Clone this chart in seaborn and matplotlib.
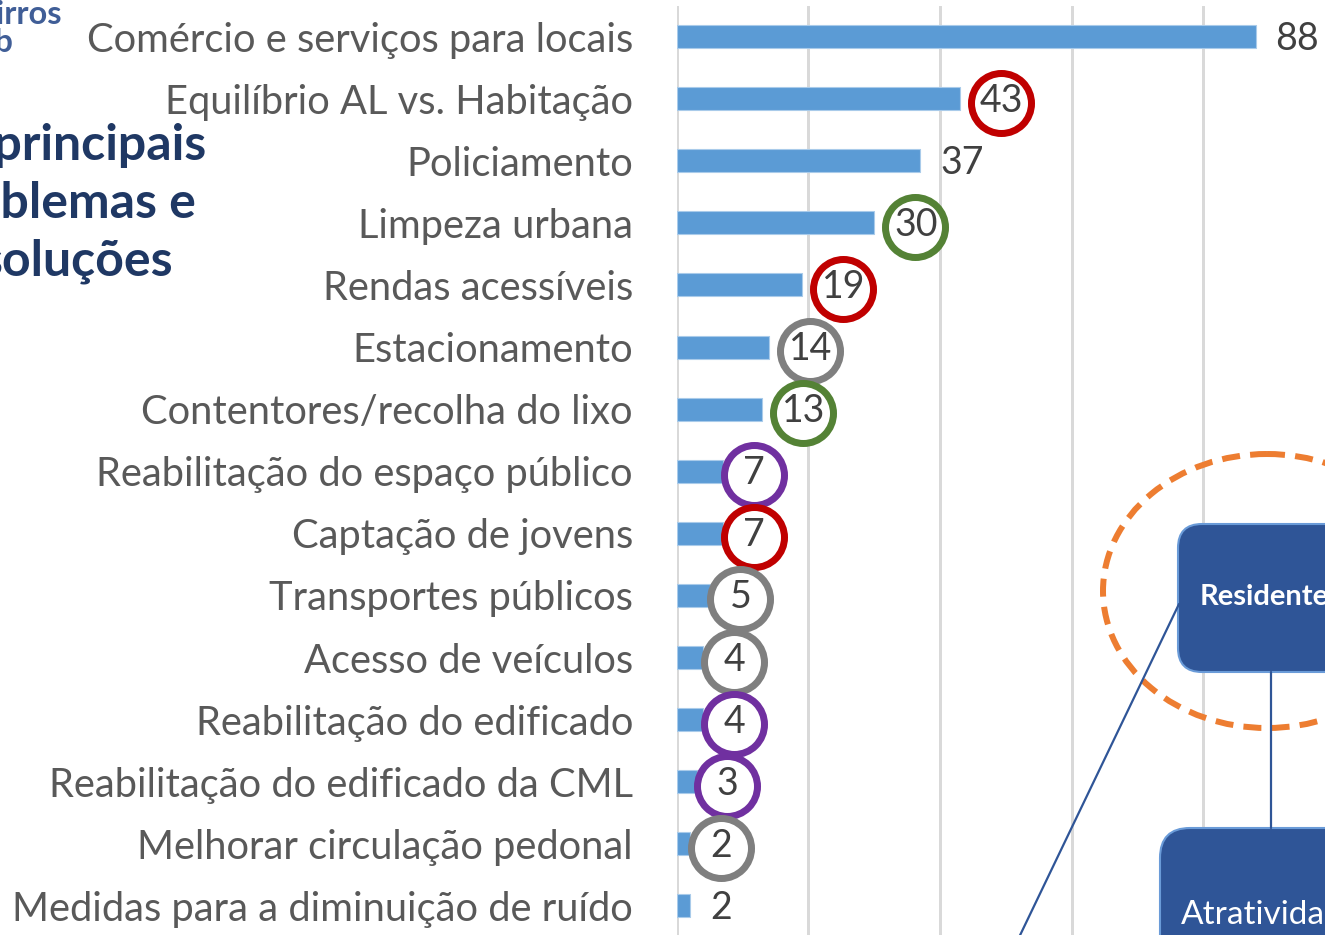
import pandas as pd
import seaborn as sns
import matplotlib.pyplot as plt
from matplotlib.patches import Ellipse, FancyBboxPatch
from matplotlib.transforms import offset_copy

# Survey answers: main problems / solutions mentioned
categories = [
    "Comércio e serviços para locais",
    "Equilíbrio AL vs. Habitação",
    "Policiamento",
    "Limpeza urbana",
    "Rendas acessíveis",
    "Estacionamento",
    "Contentores/recolha do lixo",
    "Reabilitação do espaço público",
    "Captação de jovens",
    "Transportes públicos",
    "Acesso de veículos",
    "Reabilitação do edificado",
    "Reabilitação do edificado da CML",
    "Melhorar circulação pedonal",
    "Medidas para a diminuição de ruído",
]
values = [88, 43, 37, 30, 19, 14, 13, 7, 7, 5, 4, 4, 3, 2, 2]
# ring drawn around the value label ('' = none)
ring_colors = ["", "#C00000", "", "#548235", "#C00000", "#7F7F7F", "#548235",
               "#7030A0", "#C00000", "#7F7F7F", "#7F7F7F", "#7030A0", "#7030A0",
               "#7F7F7F", ""]

title_lines = ["Os principais", "problemas e", "soluções"]
logo_lines = ["Bairros", "Lab"]
box_labels = ["Residentes", "Atratividade"]

W, H, DPI = 1325, 935, 100
PX = 72 / DPI  # points per pixel

sns.set_theme(style="white")
plt.rcParams["font.family"] = ["Lato", "DejaVu Sans"]

fig = plt.figure(figsize=(W / DPI, H / DPI), dpi=DPI)
fig.patch.set_facecolor("white")

# ---- horizontal bar chart -------------------------------------------------
ax = fig.add_axes([677 / W, -2 / H, 657.5 / W, 931.5 / H])
df = pd.DataFrame({"tema": categories, "n": values})
sns.barplot(data=df, x="n", y="tema", orient="h", color="#5B9BD5",
            saturation=1, width=0.37, edgecolor="#A9CBEA", linewidth=0.8, ax=ax)
ylim = ax.get_ylim()

ax.set_xticks(range(0, 101, 20))
ax.xaxis.grid(True, color="#D9D9D9", linewidth=3 * PX)
ax.yaxis.grid(False)
ax.set_axisbelow(True)
for sp in ax.spines.values():
    sp.set_visible(False)
ax.set_xlabel("")
ax.set_ylabel("")
ax.tick_params(axis="x", length=0, labelbottom=False)
ax.tick_params(axis="y", length=0, pad=44 * PX, labelsize=28.7, labelcolor="#595959")

for i, (v, col) in enumerate(zip(values, ring_colors)):
    ax.annotate(str(v), xy=(v, i), xytext=(20 * PX, -2 * PX),
                textcoords="offset points", ha="left", va="center",
                fontsize=27, color="#404040", zorder=6)
    if col:
        w = 21 * len(str(v))
        tr = offset_copy(ax.transData, fig=fig, x=20 + w / 2, y=-4, units="dots")
        ax.plot([v], [i], marker="o", ms=60 * PX, mew=7 * PX, mec=col,
                mfc="white", transform=tr, clip_on=False, zorder=5)

ax.set_xlim(0, 100)
ax.set_ylim(ylim)

# ---- slide decorations drawn in pixel space -------------------------------
ov = fig.add_axes([0, 0, 1, 1], zorder=10)
ov.set_xlim(0, W)
ov.set_ylim(H, 0)
ov.axis("off")
ov.patch.set_alpha(0)

navy = "#1F3864"
for txt, xr, yc in zip(title_lines, [206, 196, 173], [146, 204, 261]):
    ov.text(xr, yc, txt, ha="right", va="center", fontsize=36,
            fontweight="bold", color=navy)

for txt, xr, yc in zip(logo_lines, [62, 13], [15, 42]):
    ov.text(xr, yc, txt, ha="right", va="center", fontsize=23.5,
            fontweight="bold", color="#2B4C8C", alpha=0.9)

ov.add_patch(Ellipse((1267, 591), 328, 274, fill=False, ec="#ED7D31",
                     lw=6 * PX, ls=(0, (3, 1.7))))

box_fc, box_ec = "#2F5597", "#6A9BD8"
ov.add_patch(FancyBboxPatch((1178, 524), 320, 148,
                            boxstyle="round,pad=0,rounding_size=24",
                            fc=box_fc, ec=box_ec, lw=1.5))
ov.add_patch(FancyBboxPatch((1160, 828), 320, 200,
                            boxstyle="round,pad=0,rounding_size=30",
                            fc=box_fc, ec=box_ec, lw=1.5))
ov.plot([1271, 1271], [672, 828], color=box_fc, lw=1.6)
ov.plot([1179, 1012], [604, 952], color=box_fc, lw=1.6)

ov.text(1200, 597, box_labels[0], ha="left", va="center", fontsize=21,
        fontweight="bold", color="white")
ov.text(1181, 915, box_labels[1], ha="left", va="center", fontsize=24,
        color="white")

fig.savefig("out.png", dpi=DPI)
